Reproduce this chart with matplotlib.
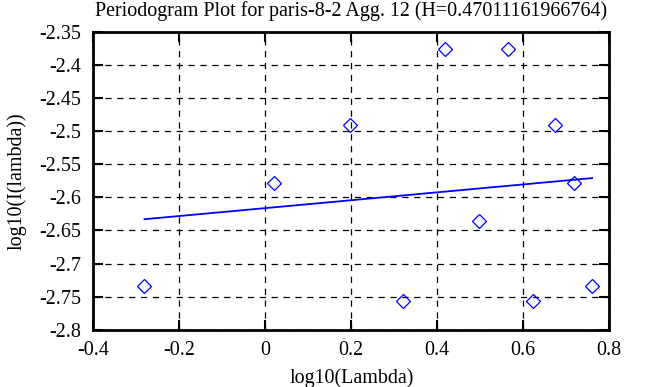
import numpy as np
import matplotlib
matplotlib.use('Agg')
import matplotlib.pyplot as plt
from matplotlib.ticker import FuncFormatter

# Periodogram points (log10 lambda, log10 I(lambda))
log_lambda = [-0.281, 0.020, 0.196, 0.321, 0.418, 0.497, 0.564, 0.622, 0.673, 0.719, 0.760]
log_periodogram = [-2.734, -2.578, -2.491, -2.757, -2.377, -2.635, -2.377, -2.757, -2.491, -2.578, -2.734]

# Fitted line ends
fit_x = [-0.281, 0.760]
fit_y = [-2.633, -2.571]

x_ticks = [-0.4, -0.2, 0, 0.2, 0.4, 0.6, 0.8]
y_ticks = [-2.8, -2.75, -2.7, -2.65, -2.6, -2.55, -2.5, -2.45, -2.4, -2.35]

plt.rcParams['font.family'] = ['Liberation Serif', 'DejaVu Serif']

fig = plt.figure(figsize=(6.52, 3.87), dpi=100)
ax = fig.add_axes([0.1431, 0.1473, 0.7914, 0.7713])

ax.plot(log_lambda, log_periodogram, linestyle='none', marker='D', markersize=7.2,
        markerfacecolor='none', markeredgecolor='#0000ff', markeredgewidth=0.9)
ax.plot(fit_x, fit_y, color='#0000ff', linewidth=1.3)

ax.set_xlim(-0.4, 0.8)
ax.set_ylim(-2.8, -2.35)
ax.set_xticks(x_ticks)
ax.set_yticks(y_ticks)
fmt = FuncFormatter(lambda v, p: '%g' % round(v, 4))
ax.xaxis.set_major_formatter(fmt)
ax.yaxis.set_major_formatter(fmt)

ax.grid(True, color='black', linestyle=(0, (5, 4.5)), linewidth=0.9)
ax.tick_params(direction='in', length=7, width=1.5, top=True, right=True,
               labelsize=14.4, pad=9, colors='black')
ax.tick_params(axis='x', pad=8)
for s in ax.spines.values():
    s.set_linewidth(2)

ax.set_title('Periodogram Plot for paris-8-2 Agg. 12 (H=0.47011161966764)', fontsize=14.4, pad=11)
ax.set_xlabel('log10(Lambda)', fontsize=14.4, labelpad=6)
ax.set_ylabel('log10(I(lambda))', fontsize=14.4, labelpad=9)

fig.savefig('out.png', dpi=100)
